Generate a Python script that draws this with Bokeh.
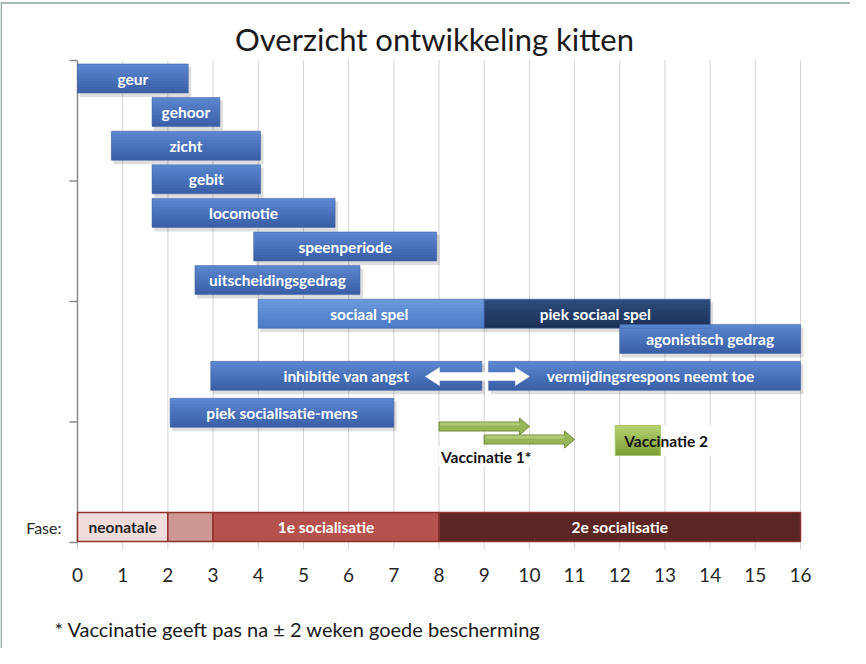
import numpy as np
from bokeh.plotting import figure
from bokeh.models import Range1d, ColumnDataSource
from bokeh.core.properties import value
from bokeh.embed import file_html
from bokeh.resources import INLINE

# ---------------- data ----------------
title_text = "Overzicht ontwikkeling kitten"

activities = ["geur", "gehoor", "zicht", "gebit", "locomotie", "speenperiode",
              "uitscheidingsgedrag", "sociaal  spel", "piek sociaal  spel",
              "agonistisch gedrag", "inhibitie van angst",
              "vermijdingsrespons neemt toe", "piek socialisatie-mens"]
act_start = [0.0, 1.65, 0.75, 1.65, 1.65, 3.9, 2.6, 4.0, 9.0, 12.0, 2.95, 9.1, 2.05]
act_end = [2.45, 3.15, 4.05, 4.05, 5.7, 7.95, 6.25, 9.0, 14.0, 16.0, 8.95, 16.0, 7.0]
act_kind = ["std", "std", "std", "std", "std", "std", "std", "light", "navy",
            "std", "std", "std", "std"]

phases = ["neonatale", "", "1e socialisatie", "2e socialisatie"]
phase_start = [0, 2, 3, 8]
phase_end = [2, 3, 8, 16]

vacc1_label = "Vaccinatie 1*"
vacc1_start = [8.0, 9.0]
vacc1_end = [10.0, 11.0]
vacc2_label = "Vaccinatie 2"
vacc2_start = [11.9]
vacc2_end = [12.9]

fear_arrow_start = 7.7
fear_arrow_end = 10.0

weeks = list(range(0, 17))
week_labels = [str(w) for w in weeks]
phase_title = "Fase:"
footnote = "* Vaccinatie geeft pas na \u00b1 2 weken goede bescherming"

# ---------------- layout helpers (page pixels -> data) ----------------
PXW = (808 - 85) / 16.0      # pixels per week
ROW = 33.6                   # pixels per row slot


def wx(px):
    return (px - 85) / PXW


def ry(py):
    return (py - 86) / ROW


# row slot of each activity bar
act_row = [0, 1, 2, 3, 4, 5, 6, 7, 7, 7.75, 8.85, 8.85, 9.95]
# small horizontal nudge of label centres (pixels)
label_nudge = [0, 0, 0, 0, 0, 0, 0, 0, 0, 0, 0, 6, 0]

BAR_H = 29 / ROW
LBL = "15.5px"

p = figure(width=850, height=648,
           x_range=Range1d(wx(8), wx(858)),
           y_range=Range1d(ry(656), ry(8)),
           x_axis_type=None, y_axis_type=None,
           output_backend="svg", toolbar_location=None, min_border=0)
p.outline_line_color = None
p.background_fill_color = "white"
p.border_fill_color = "white"

FONT = value("Lato")

# slide border
p.segment(x0=[wx(8.7), wx(8)], y0=[ry(10), ry(10.5)],
          x1=[wx(8.7), wx(866)], y1=[ry(664), ry(10.5)],
          line_color="#8DA59C", line_width=1.5)

# title
p.text(x=[wx(442)], y=[ry(46)], text=[title_text], text_font=FONT,
       text_font_size="31px", text_color="#1a1a1a",
       text_align="center", text_baseline="middle")

# vertical gridlines
gx = weeks[1:]
p.segment(x0=gx, y0=[ry(68)] * len(gx), x1=gx, y1=[ry(557)] * len(gx),
          line_color="#D4D4D4", line_width=1)
p.segment(x0=[0], y0=[ry(549)], x1=[0], y1=[ry(557)],
          line_color="#C8C8C8", line_width=1)

# y axis line and ticks
p.segment(x0=[0], y0=[ry(68)], x1=[0], y1=[ry(550)],
          line_color="#8A8A8A", line_width=1.5)
yt = list(np.linspace(ry(68), ry(550), 5))
p.segment(x0=[wx(77)] * 5, y0=yt, x1=[0] * 5, y1=yt,
          line_color="#8A8A8A", line_width=1.5)


def lerp(c1, c2, t):
    a = [int(c1[i:i + 2], 16) for i in (1, 3, 5)]
    b = [int(c2[i:i + 2], 16) for i in (1, 3, 5)]
    return "#%02x%02x%02x" % tuple(int(round(a[k] + (b[k] - a[k]) * t)) for k in range(3))


GRAD = {"std": ("#5A86CF", "#3B60A7"),
        "light": ("#6A98DD", "#4D7BC6"),
        "navy": ("#2C4A7A", "#1D3258")}

# shadows
sh = dict(left=[s + wx(87) for s in act_start], right=[e + wx(88) for e in act_end],
          top=[r - BAR_H / 2 + 3 / ROW for r in act_row],
          bottom=[r + BAR_H / 2 + 4 / ROW for r in act_row])
p.quad(source=ColumnDataSource(sh), left="left", right="right", top="top",
       bottom="bottom", fill_color="black", fill_alpha=0.13, line_color=None)

# gradient bars (strips overlap so no seams show)
N = 10
OV = 1.2 / ROW
L, R, T, B, C = [], [], [], [], []
for s, e, r, k in zip(act_start, act_end, act_row, act_kind):
    c1, c2 = GRAD[k]
    for j in range(N):
        L.append(s)
        R.append(e)
        T.append(r - BAR_H / 2 + j * BAR_H / N)
        B.append(r - BAR_H / 2 + (j + 1) * BAR_H / N + (OV if j < N - 1 else 0))
        C.append(lerp(c1, c2, j / (N - 1)))
p.quad(source=ColumnDataSource(dict(left=L, right=R, top=T, bottom=B, c=C)),
       left="left", right="right", top="top", bottom="bottom",
       fill_color="c", line_color=None)
# bar edges
p.quad(left=act_start, right=act_end,
       top=[r - BAR_H / 2 for r in act_row], bottom=[r + BAR_H / 2 for r in act_row],
       fill_color=None, line_color="#3D5F9F", line_width=0.8, line_alpha=0.7)

# white double arrow (inhibitie <-> vermijdingsrespons)
yc = ry(384)
sh_h = 4 / ROW
hd_h = 9 / ROW
hl = 14 / PXW
ax = [fear_arrow_start, fear_arrow_start + hl, fear_arrow_start + hl,
      fear_arrow_end - hl, fear_arrow_end - hl, fear_arrow_end,
      fear_arrow_end - hl, fear_arrow_end - hl, fear_arrow_start + hl,
      fear_arrow_start + hl]
ay = [yc, yc - hd_h, yc - sh_h, yc - sh_h, yc - hd_h, yc, yc + hd_h, yc + sh_h,
      yc + sh_h, yc + hd_h]
p.patch(x=ax, y=ay, fill_color="white", line_color="white", line_width=0.5)

# bar labels
p.text(x=[(s + e) / 2 + n / PXW for s, e, n in zip(act_start, act_end, label_nudge)],
       y=act_row, text=activities, text_font=FONT, text_font_style="bold",
       text_font_size=LBL, text_color="white",
       text_align="center", text_baseline="middle")

# vaccination arrows
v_rows = [ry(434), ry(447)]
xs, ys = [], []
for s, e, r in zip(vacc1_start, vacc1_end, v_rows):
    hl = 10 / PXW
    a, b = 4.5 / ROW, 8.5 / ROW
    xs.append([s, e - hl, e - hl, e, e - hl, e - hl, s])
    ys.append([r - a, r - a, r - b, r, r + b, r + a, r + a])
p.patches(xs=xs, ys=ys, fill_color="#96B556", line_color="#6F8C3C", line_width=1)
for s, e, r in zip(vacc1_start, vacc1_end, v_rows):
    p.quad(left=[s + 0.02], right=[e - 10 / PXW], top=[r - 4.5 / ROW + 0.5 / ROW],
           bottom=[r - 1 / ROW], fill_color="#BBD38A", fill_alpha=0.7, line_color=None)

# white backgrounds for vaccination labels
p.quad(left=[wx(446)], right=[wx(548)], top=[ry(454)], bottom=[ry(474)],
       fill_color="white", line_color=None)
p.quad(left=[vacc2_end[0]], right=[wx(722)], top=[ry(433)], bottom=[ry(463)],
       fill_color="white", line_color=None)

# vaccination 2 box with gradient
vt, vb = ry(433), ry(463)
L2, R2, T2, B2, C2 = [], [], [], [], []
for j in range(N):
    L2.append(vacc2_start[0])
    R2.append(vacc2_end[0])
    T2.append(vt + j * (vb - vt) / N)
    B2.append(vt + (j + 1) * (vb - vt) / N + (OV if j < N - 1 else 0))
    C2.append(lerp("#B3D06E", "#7E9F38", j / (N - 1)))
p.quad(left=L2, right=R2, top=T2, bottom=B2, fill_color=C2, line_color=None)
p.quad(left=vacc2_start, right=vacc2_end, top=[vt], bottom=[vb],
       fill_color=None, line_color="#A9C46C", line_width=1)

p.text(x=[vacc1_start[0] + 2 / PXW], y=[ry(464)], text=[vacc1_label], text_font=FONT,
       text_font_style="bold", text_font_size=LBL, text_color="#111111",
       text_align="left", text_baseline="middle")
p.text(x=[vacc2_start[0] + 9 / PXW], y=[ry(448)], text=[vacc2_label], text_font=FONT,
       text_font_style="bold", text_font_size=LBL, text_color="#111111",
       text_align="left", text_baseline="middle")

# phase bar
pr = ry(534.5)
ph = 29 / ROW
p.quad(left=phase_start, right=phase_end, top=[pr - ph / 2] * 4, bottom=[pr + ph / 2] * 4,
       fill_color=["#F2DCDB", "#CF9794", "#B5524D", "#5A2522"],
       line_color="#8E302C", line_width=1.5)
p.text(x=[(s + e) / 2 for s, e in zip(phase_start, phase_end)], y=[pr] * 4,
       text=phases, text_font=FONT, text_font_style="bold", text_font_size=LBL,
       text_color=["#262626", "white", "white", "white"],
       text_align="center", text_baseline="middle")
p.text(x=[wx(69)], y=[pr], text=[phase_title], text_font=FONT,
       text_font_size="16px", text_color="#262626",
       text_align="right", text_baseline="middle")

# x tick labels
p.text(x=weeks, y=[ry(582)] * len(weeks), text=week_labels, text_font=FONT,
       text_font_size="19px", text_color="#262626",
       text_align="center", text_baseline="middle")

# footnote
p.text(x=[wx(62)], y=[ry(636)], text=[footnote], text_font=FONT,
       text_font_size="20px", text_color="#1a1a1a",
       text_align="left", text_baseline="middle")

open("out.html", "w").write(file_html(p, INLINE))
